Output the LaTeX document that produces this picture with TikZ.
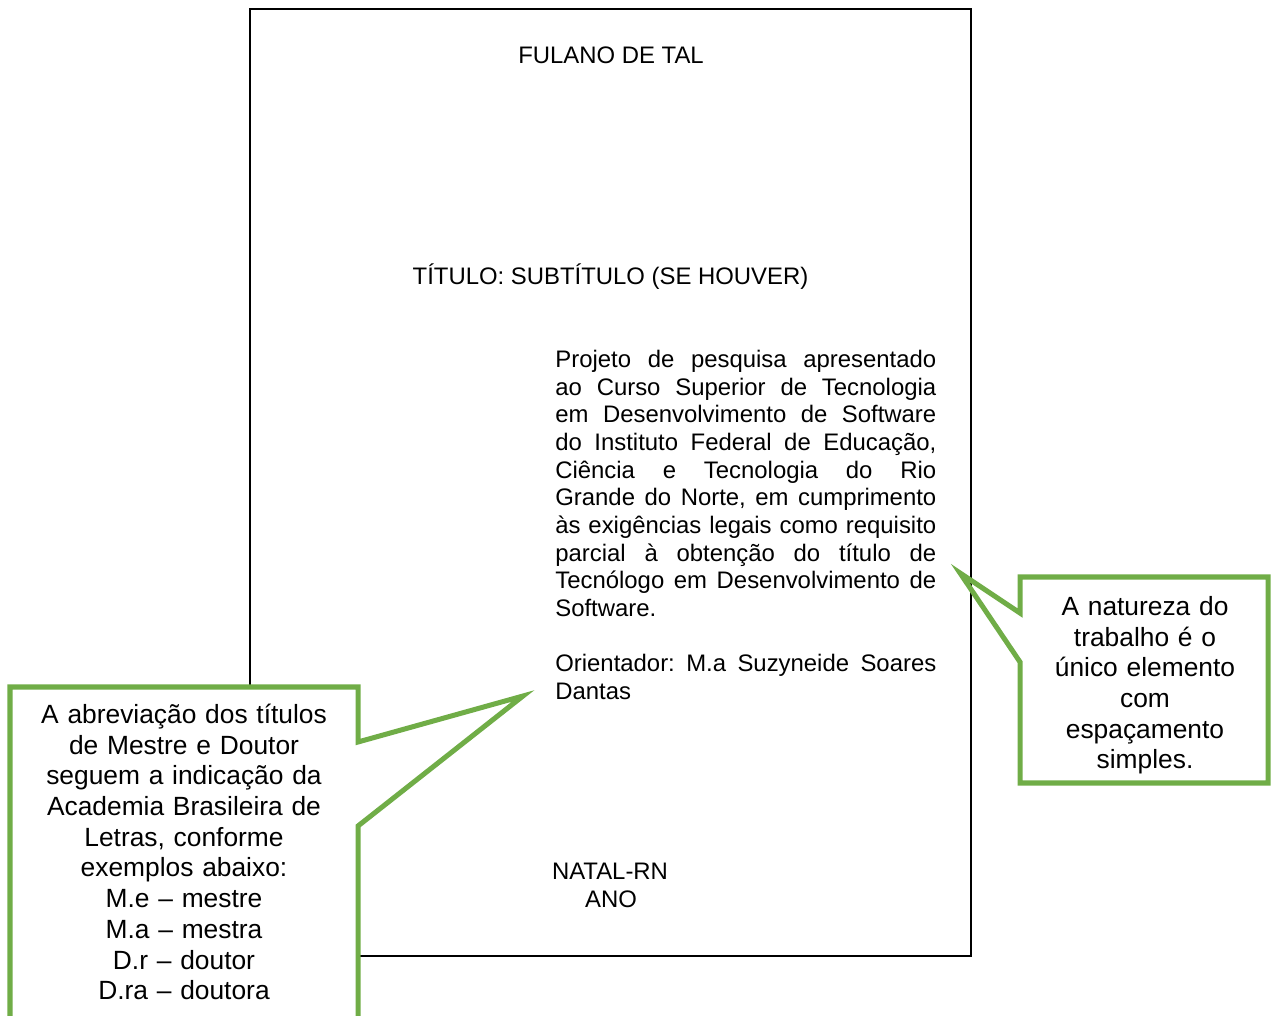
\documentclass[tikz,border=0pt]{standalone}
\usepackage{fontspec}
\setmainfont{Liberation Sans}
\definecolor{calloutgreen}{RGB}{112,173,71}

\begin{document}
\begin{tikzpicture}[x=0.02cm,y=-0.02cm,
    pagetext/.style={inner sep=0pt,font={\fontsize{13.6}{15.74}\selectfont}},
    balloon/.style={draw=calloutgreen,line width=2.85pt,line join=miter},
    balloontext/.style={inner sep=0pt,align=center,font={\fontsize{15}{17.47}\selectfont}}]
    \useasboundingbox (0,0) rectangle (1271,1016);
    \clip (0,0) rectangle (1271,1016);
    \draw[line width=0.9pt] (250,9) rectangle (971,956);
    \node[pagetext,anchor=base] (autor) at (611,63.6) {FULANO DE TAL};
    \node[pagetext,anchor=base] (titulo) at (610.5,284.6) {TÍTULO: SUBTÍTULO (SE HOUVER)};
    \node[pagetext,anchor=base west,text width=7.62cm,align=justify] (natureza) at (555,367.6) {\tolerance=10000\hbadness=10000\frenchspacing\hyphenpenalty=10000
        Projeto de pesquisa apresentado\linebreak
        ao Curso Superior de Tecnologia\linebreak
        em Desenvolvimento de Software\linebreak
        do Instituto Federal de Educação,\linebreak
        Ciência e Tecnologia do Rio\linebreak
        Grande do Norte, em cumprimento\linebreak
        às exigências legais como requisito\linebreak
        parcial à obtenção do título de\linebreak
        Tecnólogo em Desenvolvimento de\linebreak
        Software.\par\vspace{\baselineskip}
        Orientador: M.a Suzyneide Soares\linebreak
        Dantas\par};
    \node[pagetext,anchor=base] (local) at (610,879.6) {NATAL-RN};
    \node[pagetext,anchor=base] (ano) at (611,907.6) {ANO};
    \coordinate (pontaL) at (523,696);
    \coordinate (pontaR) at (960,573);
    \draw[balloon,fill=white] (10,687) -- (358,687) -- (358,742) -- (pontaL) -- (358,826) -- (358,1040) -- (10,1040) -- cycle;
    \draw[balloon] (1020,577) -- (1268,577) -- (1268,783) -- (1020,783) -- (1020,662) -- (pontaR) -- (1020,613) -- cycle;
    \node[balloontext,anchor=base,text width=6.6cm] (notaL) at (184,723.5) {A abreviação dos títulos\\de Mestre e Doutor\\seguem a indicação da\\Academia Brasileira de\\Letras, conforme\\exemplos abaixo:\\M.e – mestre\\M.a – mestra\\D.r – doutor\\D.ra – doutora};
    \node[balloontext,anchor=base,text width=4.4cm] (notaR) at (1145,615.5) {A natureza do\\trabalho é o\\único elemento\\com\\espaçamento\\simples.};
\end{tikzpicture}
\end{document}
